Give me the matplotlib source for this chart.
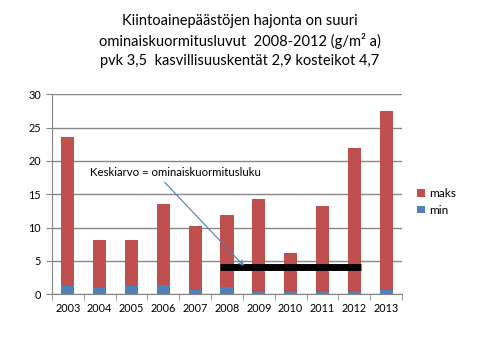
import matplotlib
matplotlib.use("Agg")
import matplotlib.pyplot as plt
import numpy as np

plt.rcParams['font.family'] = ['Lato', 'DejaVu Sans']

years = ["2003", "2004", "2005", "2006", "2007", "2008", "2009", "2010", "2011", "2012", "2013"]
maks = [23.6, 8.15, 8.15, 13.55, 10.2, 11.9, 14.3, 6.2, 13.25, 21.95, 27.5]
mins = [1.3, 1.0, 1.3, 1.4, 0.7, 1.1, 0.4, 0.4, 0.4, 0.4, 0.7]
keskiarvo = 4.05
kesk_start, kesk_end = "2008", "2012"

title = ("Kiintoainepäästöjen hajonta on suuri\n"
         "ominaiskuormitusluvut  2008-2012 (g/m² a)\n"
         "pvk 3,5  kasvillisuuskentät 2,9 kosteikot 4,7")
annot = "Keskiarvo = ominaiskuormitusluku"

red = "#C0504D"
blue = "#4F81BD"
grid = "#868686"

fig = plt.figure(figsize=(4.8, 3.6), dpi=100)
ax = fig.add_axes([52/480, 1-294.3/360, 350/480, 200/360])

x = np.arange(len(years))
w = 0.41
# red segment = maks - min stacked on min so total reaches maks
seg = [m - n for m, n in zip(maks, mins)]
ax.bar(x, mins, w, color=blue, label="min", zorder=2)
ax.bar(x, seg, w, bottom=mins, color=red, label="maks", zorder=2)

i0, i1 = years.index(kesk_start), years.index(kesk_end)
ax.hlines(keskiarvo, i0 - w/2, i1 + w/2, color="black", linewidth=5, zorder=3)

ax.set_xlim(-0.5, len(years) - 0.5)
ax.set_ylim(0, 30)
ax.set_yticks(range(0, 31, 5))
ax.set_xticks(x)
ax.set_xticklabels(years)
ax.set_xticks(np.arange(-0.5, len(years), 1), minor=True)
ax.tick_params(axis='x', which='major', length=0, labelsize=7.8, pad=6)
ax.tick_params(axis='x', which='minor', length=4, color=grid, direction='out')
ax.tick_params(axis='y', length=4, color=grid, labelsize=7.8, pad=4)
ax.yaxis.grid(True, color=grid, linewidth=1, zorder=0)
ax.set_axisbelow(True)
for s in ["top", "right"]:
    ax.spines[s].set_visible(False)
ax.spines["left"].set_color(grid)
ax.spines["bottom"].set_color(grid)

ax.annotate(annot, xy=(244/480, 1-266/360), xycoords='figure fraction',
            xytext=(90/480, 1-172/360), textcoords='figure fraction',
            fontsize=8.2, va='center', ha='left',
            arrowprops=dict(arrowstyle='->', color="#4A7EBB", lw=0.8,
                            relpos=(0.41, 0.0), shrinkA=2, shrinkB=0))

handles, labels = ax.get_legend_handles_labels()
leg = fig.legend(handles[::-1], labels[::-1], loc='center left',
                 bbox_to_anchor=(406/480, 1-202/360), frameon=False,
                 fontsize=8.6, handlelength=0.65, handleheight=0.65,
                 handletextpad=0.4, labelspacing=0.45)

fig.text(0.5, 1-41/360, title, ha='center', va='center', fontsize=10.5,
         linespacing=1.45)

fig.savefig("out.png", dpi=100)
